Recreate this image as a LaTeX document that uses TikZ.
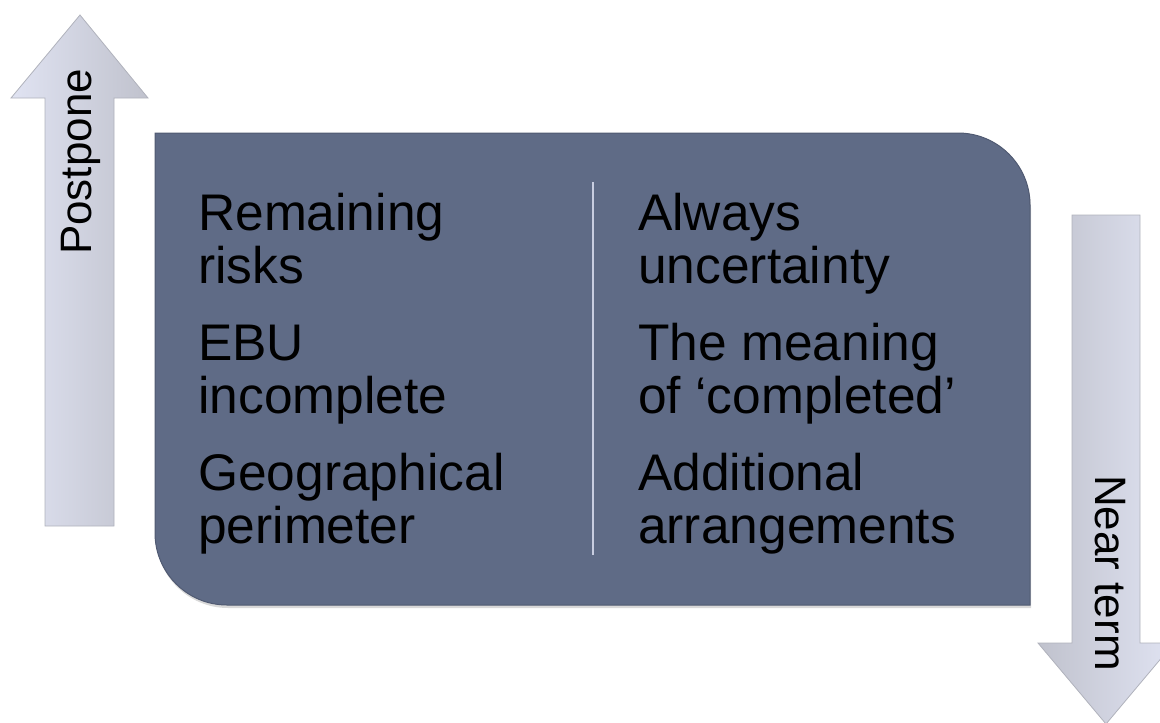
\documentclass[tikz,border=0pt]{standalone}
\usepackage{fontspec}
\setmainfont{Liberation Sans}
\usetikzlibrary{shadows}

\definecolor{slate}{RGB}{95,107,134}
\definecolor{slateedge}{RGB}{80,90,114}
\definecolor{arrowlight}{RGB}{224,227,242}
\definecolor{arrowmid}{RGB}{208,210,222}
\definecolor{arrowdark}{RGB}{192,194,205}
\definecolor{arrowline}{RGB}{176,178,188}
\definecolor{divider}{RGB}{200,205,224}

\begin{document}
\begin{tikzpicture}[
  x=1pt,y=-1pt,
  item/.style={anchor=base west,align=left,inner sep=0pt,
               font=\fontsize{51.5}{53}\selectfont},
  tag/.style={inner sep=0pt,font=\fontsize{44}{44}\selectfont},
  panel/.style={fill=slate,draw=slateedge,line width=1pt,
                drop shadow={opacity=0.3,shadow xshift=1pt,shadow yshift=-3pt}},
  timearrow/.style={draw=arrowline,line width=0.8pt,line join=miter}
]
  \useasboundingbox (0,0) rectangle (1160,723);
  \clip (0,0) rectangle (1160,723);

  % arrows on both sides
  \path[timearrow,left color=arrowlight,middle color=arrowmid,right color=arrowdark]
    (80,15) -- (148,98) -- (114,98) -- (114,526) -- (45,526) -- (45,98)
    -- (11,98) -- cycle;
  \path[timearrow,left color=arrowdark,middle color=arrowmid,right color=arrowlight]
    (1106,724) -- (1174,643) -- (1140,643) -- (1140,215) -- (1072,215)
    -- (1072,643) -- (1038,643) -- cycle;

  % main panel: two rounded corners only
  \path[panel] (155,133) -- (958,133) arc[start angle=-90,end angle=0,radius=72]
    -- (1030,605) -- (227,605) arc[start angle=90,end angle=180,radius=72]
    -- cycle;

  \coordinate (divtop) at (593,182);
  \coordinate (divbot) at (593,555);
  \draw[divider,line width=2pt] (divtop) -- (divbot);

  \node[tag,rotate=90]  (postpone) at (81,162)   {Postpone};
  \node[tag,rotate=-90] (nearterm) at (1110,573) {Near term};

  % base anchor sits on the second line
  \node[item] (remaining)  at (198,283) {Remaining\\risks};
  \node[item] (ebu)        at (198,413) {EBU\\incomplete};
  \node[item] (geo)        at (198,543) {Geographical\\perimeter};
  \node[item] (always)     at (638,283) {Always\\uncertainty};
  \node[item] (meaning)    at (638,413) {The meaning\\of ‘completed’};
  \node[item] (additional) at (638,543) {Additional\\arrangements};
\end{tikzpicture}
\end{document}
